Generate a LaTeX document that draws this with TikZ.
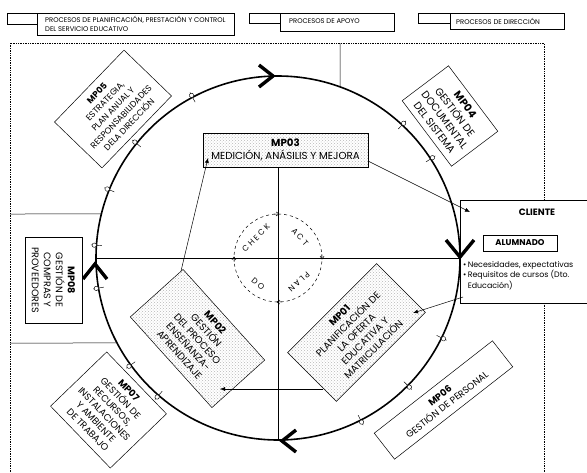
\documentclass[tikz,border=0pt]{standalone}
\usepackage{fontspec}
\setmainfont{Poppins}
\usetikzlibrary{arrows.meta,calc,patterns}
\newcommand{\fs}[2]{\fontsize{#1}{#2}\selectfont}
\begin{document}
\begin{tikzpicture}[x=1pt,y=-1pt,
  every node/.style={inner sep=1pt},
  txt/.style={font=\fs{9.6}{11}, align=center},
  proc/.style={draw, line width=0.5pt, fill=white, txt},
  stip/.style={draw, line width=0.5pt, preaction={fill=white}, pattern=crosshatch dots, pattern color=black!28, txt},
  legtxt/.style={font=\fs{6.8}{8.6}, anchor=west, align=left},
  frame/.style={densely dotted, line width=0.7pt},
  grid/.style={line width=0.5pt},
  arr/.style={-{Latex[length=5pt,width=4pt]}, line width=0.5pt},
  chev/.style={line width=3.4pt, line join=miter, line cap=butt},
  pdca/.style={font=\fs{8}{9}},
  ringmark/.pic={\draw[line width=0.45pt] (-5.5pt,0) -- (5.5pt,0); \draw[line width=0.45pt, fill=white] (2.2pt,0) circle[radius=2.2pt];}
]
\useasboundingbox (0,0) rectangle (587,472);
\fill[white] (0,0) rectangle (587,472);

% ---------------- legend
\draw[line width=0.5pt] (7,13) rectangle (37,24);
\draw[line width=0.5pt] (37,13) rectangle (234,35);
\node[legtxt] (lg1) at (44,24) {PROCESOS DE PLANIFICACIÓN, PRESTACIÓN Y CONTROL\\DEL SERVICIO EDUCATIVO};
\draw[line width=0.5pt] (249,13) rectangle (280,23);
\draw[line width=0.5pt] (280,13) rectangle (394,31);
\node[legtxt] (lg2) at (288,21) {PROCESOS DE APOYO};
\draw[line width=0.5pt] (418,13) rectangle (450,23);
\draw[line width=0.5pt] (450,13) rectangle (564,29);
\node[legtxt] (lg3) at (455,21) {PROCESOS DE DIRECCIÓN};

% ---------------- frame
\coordinate (C) at (278,258);
\draw[frame] (10,472) -- (10,43) -- (544,43) -- (544,200);
\draw[frame] (544,303) -- (544,472);

% ---------------- grid lines
\draw[grid] (340,43) -- ($(C)+(70.08:182pt)$);
\draw[grid] (10,214) -- ($(C)+(166.0:182pt)$);
\draw[grid] (10,343) -- ($(C)+(207.84:182pt)$);
\draw[grid] ($(C)+(180:182pt)$) -- ($(C)+(0:182pt)$);
\draw[grid] (278,167) -- ($(C)+(270:182pt)$);

% ---------------- big cycle
\draw[line width=1.6pt] (C) circle[radius=182pt];
\draw[chev] (259,65) -- (273,76) -- (259,87);
\draw[chev] (446,240) -- (460,257) -- (474,240);
\draw[chev] (296,430) -- (282,441) -- (296,452);
\draw[chev] (83,279) -- (95,264) -- (107,279);

% connection marks on the cycle
\foreach \a in {118,141,158,47,33,176,189.5,216,229,334,315.5,297}
  \pic[rotate=\a] at ($(C)+(\a:182pt)$) {ringmark};

% ---------------- PDCA
\draw[dashed, line width=0.5pt] (C) circle[radius=44pt];
\foreach \a/\b in {95/88,5/-2,-85/-92,185/178}
  \draw[line width=0.5pt, -{Straight Barb[length=3pt,width=4pt]}] ($(C)+(\a:44pt)$) arc[start angle=\a, end angle=\b, radius=44pt];
\node[pdca, rotate=45] (check) at (256,238) {C H E C K};
\node[pdca, rotate=-48] (act) at (300,237) {A C T};
\node[pdca, rotate=-138] (plan) at (299,282) {P L A N};
\node[pdca, rotate=-40] (do) at (258,284) {D O};

% ---------------- process boxes
\node[stip, minimum width=165, minimum height=34, font=\fs{10.2}{12.4}] (MP03) at (285.5,150) {\textbf{MP03}\\MEDICIÓN, ANÁSILIS Y MEJORA};
\node[proc, rotate=46, minimum width=100, minimum height=66, font=\fs{8.6}{11.2}] (MP05) at (113,109) {\textbf{MP05}\\ESTRATEGIA,\\PLAN ANUAL Y\\RESPONSABILIDADES\\DELA DIRECCIÓN};
\node[proc, rotate=-53, minimum width=82, minimum height=58, font=\fs{10.4}{12.8}] (MP04) at (450,116) {\textbf{MP04}\\GESTIÓN DE\\DOCUMENTAL\\DEL SISTEMA};
\node[proc, rotate=-90, minimum width=86, minimum height=57, font=\fs{9.6}{12}] (MP08) at (53.5,280) {\textbf{MP08}\\GESTIÓN DE\\COMPRAS Y\\PROVEEDORES};
\node[stip, rotate=-48, minimum width=122, minimum height=71, font=\fs{9.8}{12}] (MP02) at (197.5,338.5) {\textbf{MP02}\\GESTIÓN\\DEL PROCESO\\ENSEÑANZA-\\APRENDIZAJE};
\node[stip, rotate=45, minimum width=126, minimum height=69, font=\fs{9.8}{12}] (MP01) at (356.5,332.5) {\textbf{MP01}\\PLANIFICACIÓN DE\\LA OFERTA\\EDUCATIVA Y\\MATRICULACIÓN};
\node[proc, rotate=-46, minimum width=86, minimum height=78, font=\fs{9.4}{11.4}] (MP07) at (108.5,410) {\textbf{MP07}\\GESTIÓN DE\\RECURSOS,\\INSTALACIONES\\Y AMBIENTE\\DE TRABAJO};
\node[proc, rotate=38, minimum width=150, minimum height=33, font=\fs{9.4}{11.6}] (MP06) at (443.5,400) {\textbf{MP06}\\GESTIÓN DE PERSONAL};

% ---------------- client
\draw[line width=0.6pt] (587,200) -- (460,200) -- (460,303) -- (587,303);
\node[font=\bfseries\fs{9.2}{10}] (cliente) at (537,212) {CLIENTE};
\node[draw, line width=0.6pt, minimum width=74, minimum height=16, font=\bfseries\fs{8.4}{9}] (alum) at (520,243) {ALUMNADO};
\node[anchor=north west, align=left, inner sep=0pt, font=\fs{7.9}{10.6}] (needs) at (463,261) {•\,Necesidades, expectativas\\•\,Requisitos de cursos (Dto.\\\phantom{•\,}Educación)};

% ---------------- flow arrows
\coordinate (m3out) at (368,161);
\coordinate (cin) at (470,212);
\coordinate (cout) at (463,297);
\coordinate (m1in) at (413,313);
\coordinate (m1out) at (323,389);
\coordinate (m2in) at (220,389);
\coordinate (m2out) at (181,271);
\coordinate (m3in) at (208,158);
\draw[arr] (m3out) -- (cin);
\draw[arr] (cout) -- (m1in);
\draw[arr] (m1out) -- (m2in);
\draw[arr] (m2out) -- (m3in);
\end{tikzpicture}
\end{document}
